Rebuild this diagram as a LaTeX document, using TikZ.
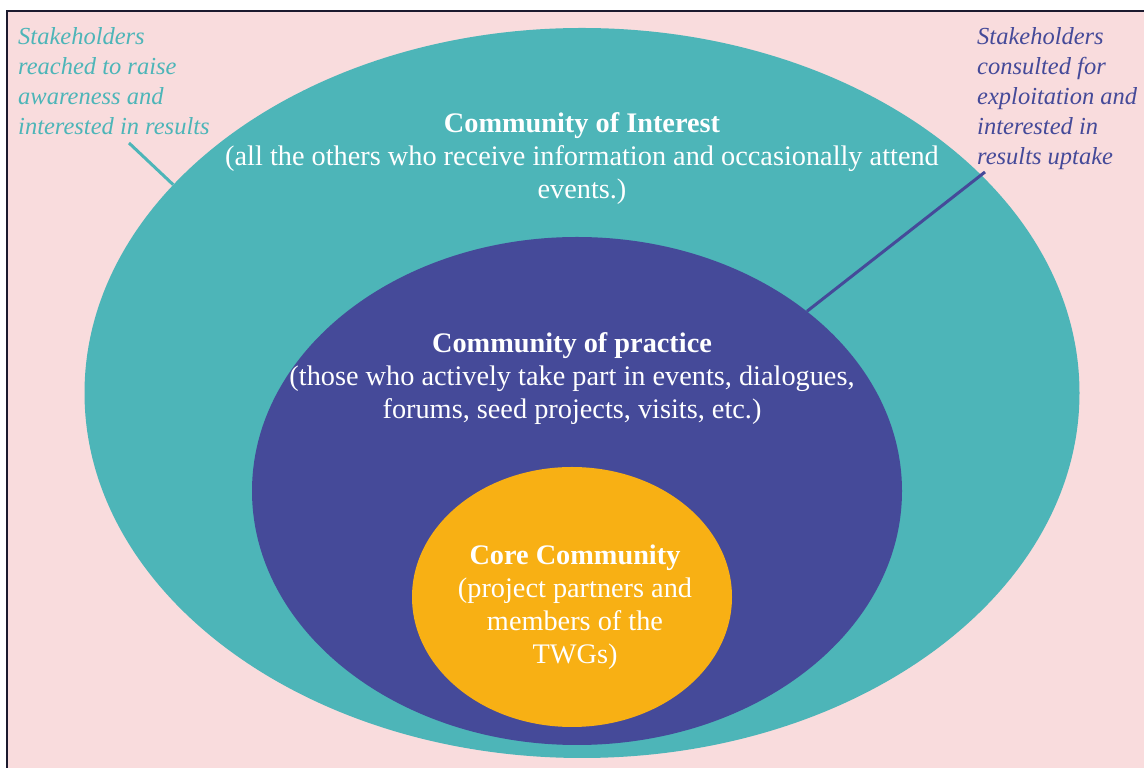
\documentclass[tikz,border=0pt]{standalone}
\usepackage{fontspec}
\setmainfont{Liberation Serif}
\usetikzlibrary{shapes.geometric}
\definecolor{bgpink}{HTML}{F9DCDD}
\definecolor{interestteal}{HTML}{4DB5B8}
\definecolor{practiceblue}{HTML}{454A99}
\definecolor{coreorange}{HTML}{F8B014}
\definecolor{frameink}{HTML}{1C1A2E}
\tikzset{
  circle of/.style={ellipse, fill=#1, draw=none, inner sep=0pt},
  label text/.style={text=white, align=center, font=\fontsize{28.3}{33}\selectfont},
  note text/.style={text=#1, align=left, anchor=north west,
    font=\itshape\fontsize{24.5}{30}\selectfont, inner sep=0pt},
}
\begin{document}
\begin{tikzpicture}[x=1pt,y=1pt]
  \useasboundingbox (0,0) rectangle (1144,768);
  % background
  \fill[bgpink] (8,0) rectangle (1144,757);
  \draw[frameink,line width=1.5pt] (7,0) -- (7,757) -- (1144,757);

  % circles
  \node[circle of=interestteal, minimum width=995, minimum height=730] (interest) at (582,375) {};
  \node[circle of=practiceblue, minimum width=650, minimum height=508] (practice) at (577,277) {};
  \node[circle of=coreorange, minimum width=320, minimum height=260] (core) at (572,171) {};

  % texts
  \node[label text] (interesttext) at (582,609)
    {\textbf{Community of Interest}\\(all the others who receive information and occasionally attend\\events.)};
  \node[label text] (practicetext) at (572,389)
    {\textbf{Community of practice}\\(those who actively take part in events, dialogues,\\forums, seed projects, visits, etc.)};
  \node[label text] (coretext) at (575,161)
    {\textbf{Core Community}\\(project partners and\\members of the\\TWGs)};

  % notes
  \node[note text=interestteal] (leftnote) at (18,741)
    {Stakeholders\\reached to raise\\awareness and\\interested in results};
  \node[note text=practiceblue] (rightnote) at (977,741)
    {Stakeholders\\consulted for\\exploitation and\\interested in\\results uptake};
  \coordinate (leftend) at (129,625);
  \coordinate (rightend) at (985,596);

  % pointers
  \draw[interestteal, line width=3pt] (leftend) to (interest.153);
  \draw[practiceblue, line width=3pt] (rightend) to (practice.38.6);
\end{tikzpicture}
\end{document}
